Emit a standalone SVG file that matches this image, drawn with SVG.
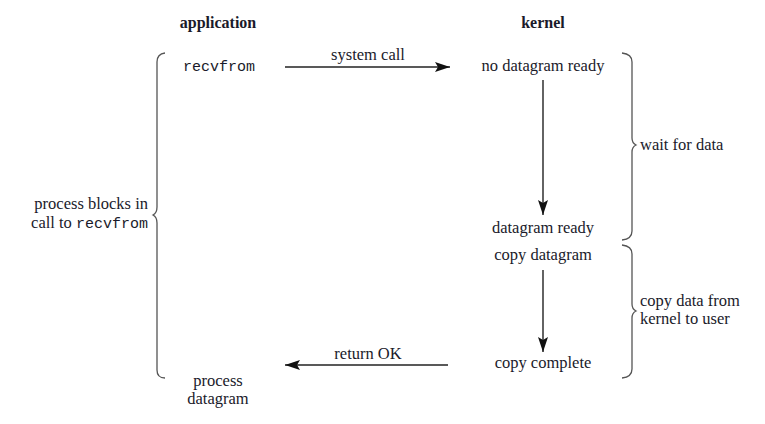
<svg xmlns="http://www.w3.org/2000/svg" width="765" height="424" viewBox="0 0 765 424">
<defs>
<marker id="ah" markerWidth="16" markerHeight="10" refX="15" refY="5" orient="auto" markerUnits="userSpaceOnUse">
<path d="M0,0 L15,5 L0,10 L3,5 Z" fill="#111"/>
</marker>
</defs>
<style>
text{font-family:"Liberation Serif","Noto Serif",serif;font-size:16.5px;fill:#1a1a2a}
.b{font-weight:bold;font-size:16px}
.m{font-family:"Liberation Mono","DejaVu Sans Mono",monospace;font-size:15px}
.c{text-anchor:middle}
.r{text-anchor:end}
.arr{stroke:#222;stroke-width:1.4;fill:none;marker-end:url(#ah)}
.br{stroke:#555;stroke-width:1.3;fill:none}
</style>
<rect width="765" height="424" fill="#fff"/>
<g id="headers">
<text class="b c" x="218" y="28">application</text>
<text class="b c" x="543" y="28">kernel</text>
</g>
<g id="app-recvfrom"><text class="m c" x="219" y="71">recvfrom</text></g>
<g id="no-datagram-ready"><text class="c" x="543" y="71">no datagram ready</text></g>
<g id="datagram-ready"><text class="c" x="543" y="233">datagram ready</text></g>
<g id="copy-datagram"><text class="c" x="543" y="260">copy datagram</text></g>
<g id="copy-complete"><text class="c" x="543" y="368">copy complete</text></g>
<g id="process-datagram"><text class="c" x="218" y="386">process</text><text class="c" x="218" y="404">datagram</text></g>
<g id="left-brace">
<path class="br" d="M165,53 Q157,54 157,62 L157,207 Q157,213 153,215 Q157,217 157,223 L157,370 Q157,378 165,378"/>
<text class="r" x="148" y="209">process blocks in</text>
<text class="r" x="148" y="228">call to <tspan class="m">recvfrom</tspan></text>
</g>
<g id="wait-brace">
<path class="br" d="M622,53 Q632,54 632,62 L632,138 Q632,143 636,145 Q632,147 632,152 L632,231 Q632,239 622,240"/>
<text x="640" y="150">wait for data</text>
</g>
<g id="copy-brace">
<path class="br" d="M622,245 Q632,246 632,254 L632,304 Q632,309 636,311 Q632,313 632,318 L632,369 Q632,377 622,378"/>
<text x="640" y="306">copy data from</text>
<text x="640" y="324">kernel to user</text>
</g>
<g id="connectors">
<line class="arr" x1="285" y1="67" x2="450" y2="67"/>
<text class="c" x="368" y="60">system call</text>
<line class="arr" x1="543" y1="80" x2="543" y2="215"/>
<line class="arr" x1="543" y1="270" x2="543" y2="352"/>
<line class="arr" x1="448" y1="365" x2="285" y2="365"/>
<text class="c" x="368" y="359">return OK</text>
</g>
</svg>
